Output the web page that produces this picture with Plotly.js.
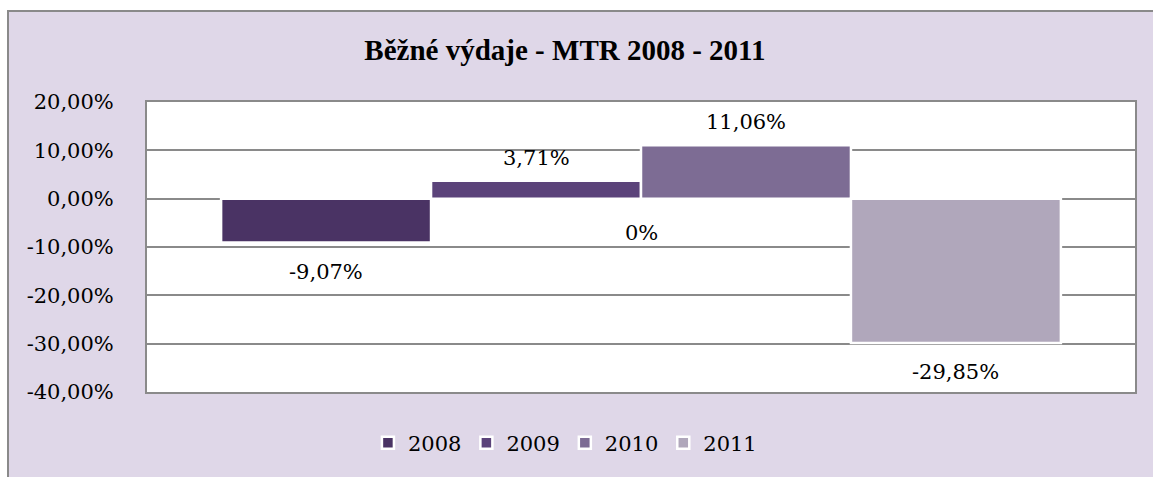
<!DOCTYPE html>
<html>
<head>
<meta charset="utf-8">
<script src="https://cdn.plot.ly/plotly-3.0.1.min.js"></script>
<style>html,body{margin:0;padding:0;background:#fff;}#chart{width:1153px;height:477px;}</style>
</head>
<body>
<div id="chart"></div>
<script>
const seriesNames = ['2008', '2009', '2010', '2011'];
const seriesValues = [-9.07, 3.71, 11.06, -29.85];
const seriesColors = ['#4a3364', '#5b437a', '#7d6c94', '#b0a7bb'];
const category = [''];
const tickValues = [20, 10, 0, -10, -20, -30, -40];
const tickLabels = ['20,00%', '10,00%', '0,00%', '-10,00%', '-20,00%', '-30,00%', '-40,00%'];
const extraLabel = '0%';

const fmt = v => v.toFixed(2).replace('.', ',') + '%';
const serif = '"DejaVu Serif", serif';
const titleFont = '"Liberation Serif", "Times New Roman", serif';

const W = 1153, H = 477;
const M = {l: 147, r: 18, t: 102, b: 85};
const plotW = W - M.l - M.r;
const bargap = 0.15;
const barPx = plotW * (1 - bargap) / seriesNames.length;

const traces = seriesNames.map((name, i) => ({
  type: 'bar',
  name: name,
  x: category,
  y: [seriesValues[i]],
  marker: {color: seriesColors[i], line: {color: '#ffffff', width: 2.5}},
  hoverinfo: 'none'
}));

const valueLabels = seriesValues.map((v, i) => ({
  text: fmt(v), xref: 'x', yref: 'y', x: 0, y: v,
  xshift: (i - (seriesNames.length - 1) / 2) * barPx,
  yshift: v < 0 ? -29 : 23,
  showarrow: false, xanchor: 'center', yanchor: 'middle',
  font: {family: serif, size: 21, color: '#000'}
}));

const layout = {
  width: W, height: H,
  margin: M,
  paper_bgcolor: '#ffffff',
  plot_bgcolor: '#ffffff',
  font: {family: serif, size: 21, color: '#000'},
  barmode: 'group',
  bargap: bargap,
  bargroupgap: 0,
  showlegend: true,
  title: {
    text: '<b>Běžné výdaje - MTR 2008 - 2011</b>',
    font: {family: titleFont, size: 29, color: '#000'},
    x: 0.423, xref: 'paper', xanchor: 'center',
    y: 1 - 50 / H, yref: 'container', yanchor: 'middle'
  },
  xaxis: {
    type: 'category',
    showticklabels: false,
    showgrid: false,
    zeroline: false,
    showline: true, mirror: true, linecolor: '#8a8a8a', linewidth: 2
  },
  yaxis: {
    range: [-40, 20],
    tickvals: tickValues,
    ticktext: tickLabels,
    ticks: '',
    ticklabelstandoff: 27,
    tickfont: {family: serif, size: 21, color: '#000'},
    showgrid: true, gridcolor: '#8a8a8a', gridwidth: 2,
    zeroline: true, zerolinecolor: '#8a8a8a', zerolinewidth: 2,
    showline: true, mirror: true, linecolor: '#8a8a8a', linewidth: 2
  },
  legend: {
    orientation: 'h',
    x: 0.423, xanchor: 'center',
    y: -0.176, yanchor: 'middle',
    font: {family: serif, size: 21, color: '#000'},
    bgcolor: 'rgba(0,0,0,0)',
    itemwidth: 30,
    traceorder: 'normal'
  },
  shapes: [
    {type: 'rect', xref: 'paper', yref: 'paper', layer: 'below',
     x0: -139 / plotW, x1: 1.1, y0: -0.5, y1: (392 - 11) / 290,
     fillcolor: '#dfd7e8', line: {color: '#8a8a8a', width: 2}},
    {type: 'rect', xref: 'paper', yref: 'paper', layer: 'below',
     x0: 0, x1: 1, y0: 0, y1: 1,
     fillcolor: '#ffffff', line: {width: 0}}
  ],
  annotations: valueLabels.concat([
    {text: extraLabel, xref: 'x', yref: 'y', x: 0, y: -7.2,
     showarrow: false, xanchor: 'center', yanchor: 'middle',
     font: {family: serif, size: 21, color: '#000'}}
  ])
};

Plotly.newPlot('chart', traces, layout, {displayModeBar: false, staticPlot: true});
</script>
</body>
</html>
